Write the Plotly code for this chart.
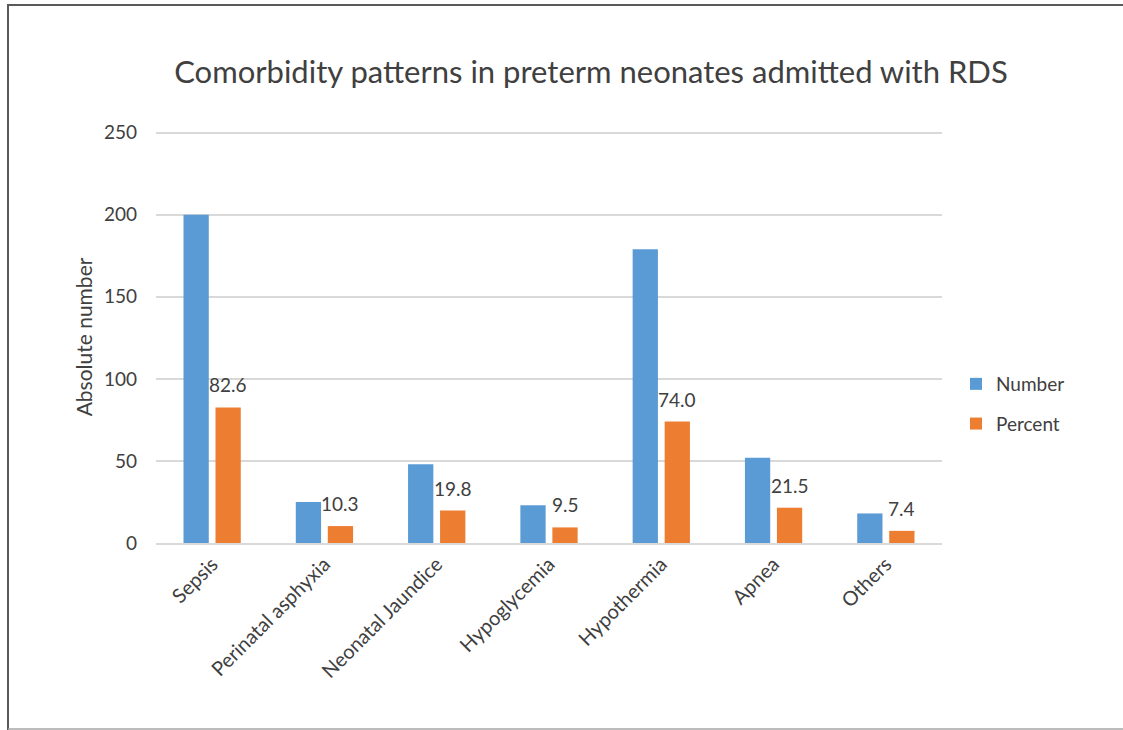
import plotly.graph_objects as go

categories = ["Sepsis", "Perinatal asphyxia", "Neonatal Jaundice", "Hypoglycemia",
              "Hypothermia", "Apnea", "Others"]
number = [200, 25, 48, 23, 179, 52, 18]
percent = [82.6, 10.3, 19.8, 9.5, 74.0, 21.5, 7.4]
percent_labels = ["82.6", "10.3", "19.8", "9.5", "74.0", "21.5", "7.4"]
y_ticks = [0, 50, 100, 150, 200, 250]

FONT = "Lato"
TXT = "#404040"

W, H = 1123, 730
L, R, T, B = 156, 181, 131, 187
pw, ph = W - L - R, H - T - B

def px2paper_x(px):
    return (px - L) / pw

def px2paper_y(py):
    return (H - B - py) / ph

fig = go.Figure()
fig.add_trace(go.Bar(name="Number", x=categories, y=number, marker_color="#5B9BD5",
                     marker_line_width=0, legendgroup="a"))
fig.add_trace(go.Bar(name="Percent", x=categories, y=percent, marker_color="#ED7D31",
                     marker_line_width=0, legendgroup="b"))

for c, v, t in zip(categories, percent, percent_labels):
    fig.add_annotation(x=c, y=v, text=t, xref="x", yref="y", showarrow=False,
                       xshift=16, yanchor="bottom", yshift=9,
                       font=dict(family=FONT, size=19, color=TXT))

# chart border
fig.add_shape(type="line", xref="paper", yref="paper",
              x0=px2paper_x(8), x1=px2paper_x(8), y0=px2paper_y(4), y1=px2paper_y(730),
              line=dict(color="#595959", width=2))
fig.add_shape(type="line", xref="paper", yref="paper",
              x0=px2paper_x(7), x1=px2paper_x(1125), y0=px2paper_y(5), y1=px2paper_y(5),
              line=dict(color="#595959", width=2))
fig.add_shape(type="line", xref="paper", yref="paper",
              x0=px2paper_x(8), x1=px2paper_x(1125), y0=px2paper_y(729), y1=px2paper_y(729),
              line=dict(color="#a6a6a6", width=1.5))

fig.update_layout(
    width=W, height=H,
    margin=dict(l=L, r=R, t=T, b=B),
    paper_bgcolor="white", plot_bgcolor="white",
    barmode="group", bargap=0.43, bargroupgap=0.21,
    title=dict(text="Comorbidity patterns in preterm neonates admitted with RDS",
               x=px2paper_x(591), xref="paper", xanchor="center",
               y=1 - 72 / H, yanchor="middle",
               font=dict(family=FONT, size=31, color=TXT)),
    font=dict(family=FONT, color=TXT),
    legend=dict(x=px2paper_x(956), y=px2paper_y(365), xanchor="left", yanchor="top",
                font=dict(family=FONT, size=19, color=TXT),
                traceorder="grouped", tracegroupgap=12, bgcolor="rgba(0,0,0,0)"),
    xaxis=dict(tickangle=-45, tickfont=dict(family=FONT, size=20, color=TXT),
               showline=True, linecolor="#d9d9d9", linewidth=1.5, ticks=""),
    yaxis=dict(range=[0, 251], tickvals=y_ticks, tickfont=dict(family=FONT, size=19, color=TXT),
               showgrid=True, gridcolor="#d9d9d9", gridwidth=1.5, zeroline=False,
               ticks="", ticklabelstandoff=18,
               title=dict(text="Absolute number", font=dict(family=FONT, size=21, color=TXT),
                          standoff=5)),
)

fig.write_html("out.html", post_script="document.body.style.margin='0';",
               config={"displayModeBar": False})
